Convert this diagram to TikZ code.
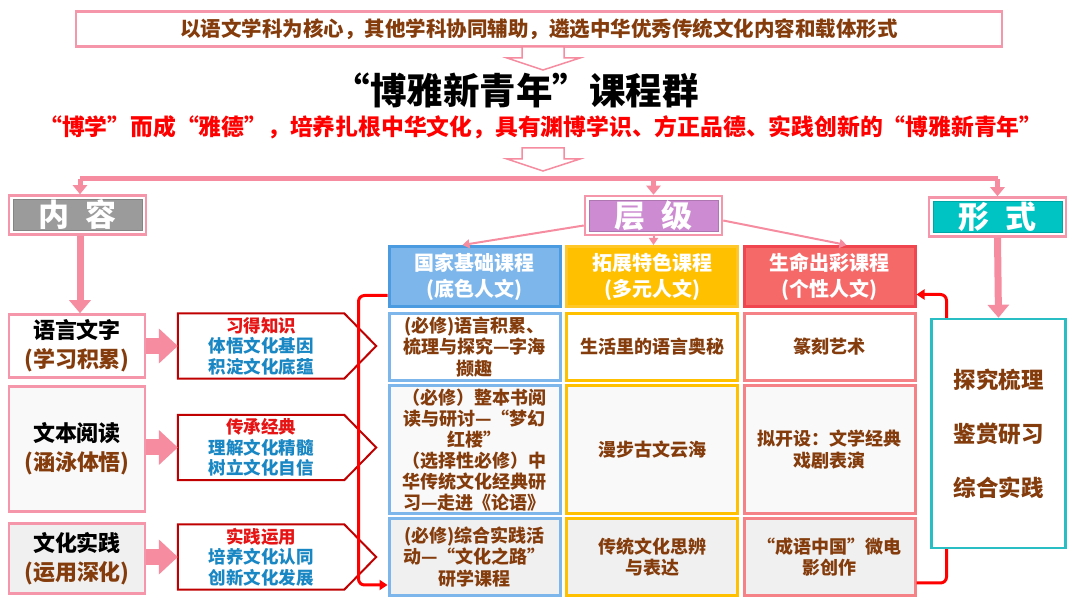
\documentclass[tikz,border=0pt]{standalone}
\usepackage{fontspec}
\setmainfont{Noto Sans CJK SC}
\usetikzlibrary{arrows.meta}

\definecolor{pinkln}{RGB}{245,140,160}
\definecolor{pinkbox}{RGB}{245,150,170}
\definecolor{browntxt}{RGB}{132,60,12}
\definecolor{bluetxt}{RGB}{25,135,195}
\definecolor{redtxt}{RGB}{230,20,20}
\definecolor{darkred}{RGB}{192,0,0}
\definecolor{tagcontent}{RGB}{155,155,155}
\definecolor{taglevel}{RGB}{205,140,210}
\definecolor{tagform}{RGB}{0,195,195}
\definecolor{basefill}{RGB}{125,182,235}
\definecolor{basedraw}{RGB}{75,155,225}
\definecolor{extfill}{RGB}{255,192,0}
\definecolor{extdraw}{RGB}{255,200,40}
\definecolor{lifefill}{RGB}{245,105,105}
\definecolor{lifedraw}{RGB}{240,70,80}
\definecolor{lifecell}{RGB}{245,130,135}
\definecolor{formdraw}{RGB}{40,190,195}
\definecolor{rowb}{RGB}{249,249,249}
\definecolor{rowc}{RGB}{240,240,240}

\begin{document}
\begin{tikzpicture}[x=1pt, y=-1pt,
  every node/.style={align=center, inner sep=2pt},
  fs/.style 2 args={font=\fontsize{#1}{#2}\selectfont\bfseries},
  tagbox/.style={draw=pinkbox, line width=2.5pt, fill=white, minimum width=137pt, minimum height=39pt,
    text=white, fs={31}{36},
    path picture={\filldraw[fill=#1, draw=#1!85!black, line width=0.8pt]
      ([shift={(4pt,-4pt)}]path picture bounding box.north west) rectangle
      ([shift={(-4pt,4pt)}]path picture bounding box.south east);}},
  leftbox/.style={draw=pinkbox, line width=2.5pt, minimum width=136pt, fs={22}{29}},
  pentbox/.style={fill=white, minimum width=166pt, minimum height=65pt, text=bluetxt, fs={17.5}{20.5}},
  pentline/.style={draw=darkred, line width=2pt, line join=miter},
  hdr/.style 2 args={draw=#2, fill=#1, line width=3pt, minimum width=171pt, minimum height=60pt,
    text=white, fs={20}{26}},
  cell/.style={draw=#1, line width=3pt, minimum width=171pt, text=browntxt, fs={18}{21.5}},
  hollowarr/.style={draw=pinkln, line width=1.5pt, fill=white},
  droparr/.style={pinkln, line width=5pt, -{Triangle[width=14pt, length=9pt]}},
  fatdrop/.style={pinkln, line width=7pt, -{Triangle[width=21pt, length=13pt]}},
  thinarr/.style={pinkln, line width=2pt, -{Triangle[width=9pt, length=7pt]}},
  blockarr/.style={pinkln, line width=16pt, -{Triangle[width=34pt, length=19pt]}},
  redarr/.style={red, line width=3pt, rounded corners=6pt, -{Triangle[width=10pt, length=8pt]}},
]
\useasboundingbox (0,0) rectangle (1080,609);

% aim and title
\node[draw=pinkbox, line width=2.5pt, minimum width=926pt, minimum height=35pt, text=browntxt, fs={20.5}{24}]
  (aim) at (539,29) {以语文学科为核心，其他学科协同辅助，遴选中华优秀传统文化内容和载体形式};
\node[fs={36.5}{42}] (title) at (516,90) {“博雅新青年”课程群};
\node[text=red, fs={22.8}{26}] (goal) at (541,127)
  {“博学”而成“雅德”，培养扎根中华文化，具有渊博学识、方正品德、实践创新的“博雅新青年”};
\foreach \y in {47,148}
  \draw[hollowarr] (522,\y) -- ++(42,0) -- ++(0,11) -- ++(16,0) -- ++(-37,12) -- ++(-36,-12) -- ++(15,0) -- cycle;

% three tags
\node[tagbox=tagcontent] (nei) at (77.5,215) {内\hspace{16pt}容};
\node[tagbox=taglevel] (ceng) at (653.5,215.5) {层\hspace{16pt}级};
\node[tagbox=tagform] (xing) at (997.5,217) {形\hspace{16pt}式};
\coordinate (jl) at (80,179);
\coordinate (jm) at (653.5,179);
\coordinate (jr) at (997.5,179);
\draw[pinkln, line width=5pt] (jl) -- (jr);
\draw[droparr] (jl) -- (jl |- nei.north);
\draw[droparr] (jm) -- (ceng.north);
\draw[droparr] (jr) -- (xing.north);

% content column
\node[leftbox, minimum height=63pt, fill=white] (lang) at (77,346) {语言文字\\\textcolor{browntxt}{(学习积累)}};
\node[leftbox, minimum height=125pt, fill=rowb] (read) at (77,449) {文本阅读\\\textcolor{browntxt}{(涵泳体悟)}};
\node[leftbox, minimum height=70pt, fill=rowc] (prac) at (77,558.5) {文化实践\\\textcolor{browntxt}{(运用深化)}};
\draw[fatdrop] (nei.south -| jl) -- (lang.north -| jl);

\node[pentbox] (p1) at (261,346) {\textcolor{redtxt}{习得知识}\\体悟文化基因\\积淀文化底蕴};
\node[pentbox] (p2) at (261,447.5) {\textcolor{redtxt}{传承经典}\\理解文化精髓\\树立文化自信};
\node[pentbox] (p3) at (261,557) {\textcolor{redtxt}{实践运用}\\培养文化认同\\创新文化发展};
\foreach \p in {p1,p2,p3}
  \draw[pentline] (\p.north west) -- (\p.north east) -- ([xshift=32pt]\p.east) -- (\p.south east)
    -- (\p.south west) -- cycle;
\draw[blockarr] (lang.east) -- (p1.west);
\draw[blockarr] (read.east |- p2.west) -- (p2.west);
\draw[blockarr] (prac.east |- p3.west) -- (p3.west);

% level table
\node[hdr={basefill}{basedraw}] (h1) at (474.5,276.5) {国家基础课程\\(底色人文)};
\node[hdr={extfill}{extdraw}] (h2) at (652,276.5) {拓展特色课程\\(多元人文)};
\node[hdr={lifefill}{lifedraw}] (h3) at (829.5,276.5) {生命出彩课程\\(个性人文)};
\draw[thinarr] ([yshift=-10pt]ceng.west) -- ([xshift=-12pt]h1.north);
\draw[thinarr] (ceng.south) -- (ceng.south |- h2.north);
\draw[thinarr] ([yshift=-5pt]ceng.east) -- ([xshift=17pt]h3.north);

\node[cell=basefill, minimum height=67pt, fill=white] (c11) at (474.5,347) {(必修)语言积累、\\梳理与探究—字海\\撷趣};
\node[cell=extfill, minimum height=67pt, fill=white] (c12) at (652,347) {生活里的语言奥秘};
\node[cell=lifecell, minimum height=67pt, fill=white] (c13) at (829.5,347) {篆刻艺术};
\node[cell=basefill, minimum height=128pt, fill=rowb, fs={18}{21}] (c21) at (474.5,450)
  {（必修）整本书阅\\读与研讨—“梦幻\\红楼”\\（选择性必修）中\\华传统文化经典研\\习—走进《论语》};
\node[cell=extfill, minimum height=128pt, fill=rowb] (c22) at (652,449.5) {漫步古文云海};
\node[cell=lifecell, minimum height=128pt, fill=rowb] (c23) at (829.5,449.5) {拟开设：文学经典\\戏剧表演};
\node[cell=basefill, minimum height=77pt, fill=rowc] (c31) at (474.5,557) {(必修)综合实践活\\动—“文化之路”\\研学课程};
\node[cell=extfill, minimum height=77pt, fill=rowc] (c32) at (652,557) {传统文化思辨\\与表达};
\node[cell=lifecell, minimum height=77pt, fill=rowc] (c33) at (829.5,557) {“成语中国”微电\\影创作};

% red links
\draw[redarr] ([yshift=-19pt]h1.west) -- ++(-29,0) |- ([yshift=-28pt]c31.west);
\draw[redarr] ([yshift=-26pt]c33.east) -- ++(30,0) |- ([yshift=-18pt]h3.east);

% form column
\node[draw=formdraw, line width=2.5pt, fill=white, minimum width=134pt, minimum height=229pt,
  text=browntxt, fs={22.5}{54}] (form) at (998.5,433.5) {探究梳理\\鉴赏研习\\综合实践};
\draw[fatdrop] (xing.south) -- (form.north);
\end{tikzpicture}
\end{document}
